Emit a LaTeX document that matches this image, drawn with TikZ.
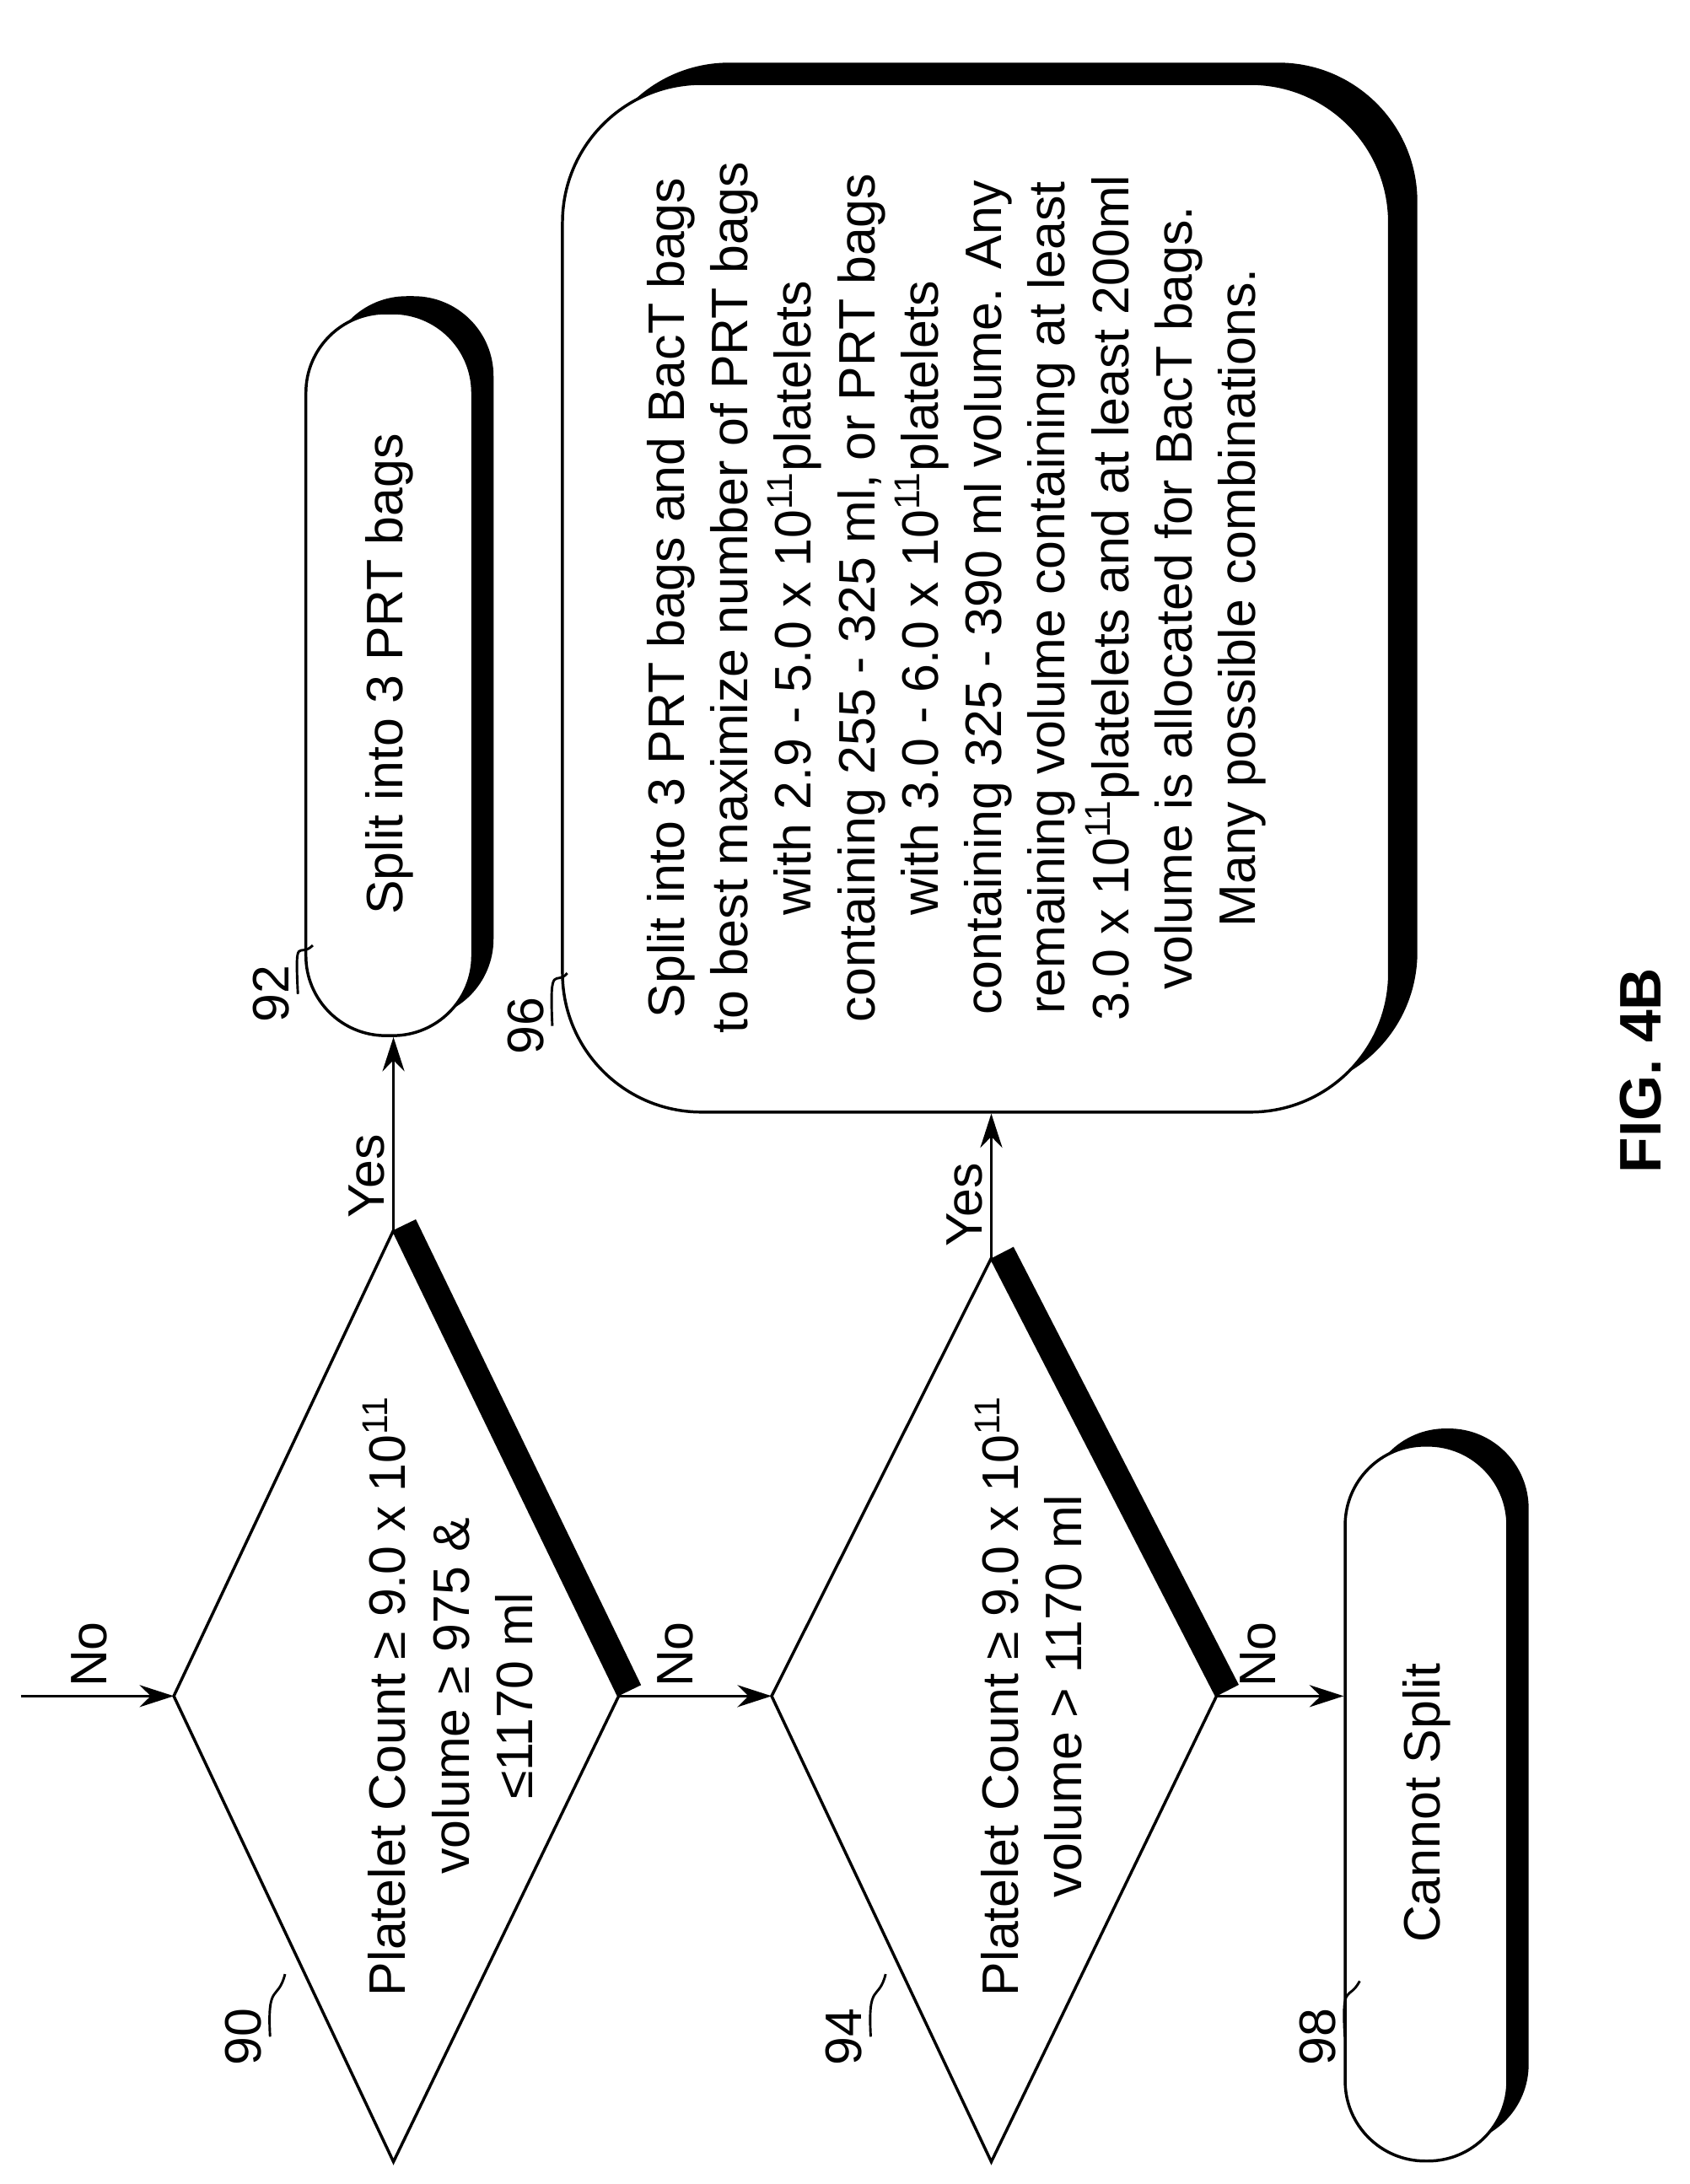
\documentclass[tikz,border=0pt]{standalone}
\usepackage{fontspec}
\setmainfont{Liberation Sans}
\usetikzlibrary{arrows.meta}
\begin{document}
\begin{tikzpicture}[x=0.02cm,y=-0.02cm,
  txt/.style={rotate=90,align=center,font=\fontsize{21}{26}\selectfont},
  term/.style={draw,line width=1.2pt,fill=white,rotate=90,rounded corners=1.15cm},
  shade/.style={fill=black,rotate=90,rounded corners=1.15cm},
  arr/.style={line width=1.2pt,-{Stealth[length=14pt,width=9pt]}},
  band/.style={line width=0.36cm,line cap=butt},
  lead/.style={line width=1pt}]
  \useasboundingbox (0,0) rectangle (1215,1571);
  % decision 90
  \coordinate (d90t) at (283,885); \coordinate (d90r) at (445,1220);
  \coordinate (d90b) at (283,1555); \coordinate (d90l) at (125,1220);
  \draw[band] ([shift={(8,-4)}]d90t) -- ([shift={(8,-4)}]d90r);
  \draw[line width=1.2pt,fill=white] (d90t) -- (d90r) -- (d90b) -- (d90l) -- cycle;
  \node[txt] (t90) at (322,1220) {Platelet Count ≥ 9.0 x 10\textsuperscript{11}\\volume ≥ 975 \&\\≤1170 ml};
  % decision 94
  \coordinate (d94t) at (713,905); \coordinate (d94r) at (875,1220);
  \coordinate (d94b) at (713,1555); \coordinate (d94l) at (555,1220);
  \draw[band] ([shift={(8,-4)}]d94t) -- ([shift={(8,-4)}]d94r);
  \draw[line width=1.2pt,fill=white] (d94t) -- (d94r) -- (d94b) -- (d94l) -- cycle;
  \node[txt] (t94) at (740,1220) {Platelet Count ≥ 9.0 x 10\textsuperscript{11}\\volume > 1170 ml};
  % terminals
  \node[shade,minimum width=10.4cm,minimum height=2.4cm] at (295,473) {};
  \node[term,minimum width=10.4cm,minimum height=2.4cm] (b92) at (280,485) {};
  \node[txt] at (b92) {Split into 3 PRT bags};
  \node[shade,minimum width=10.3cm,minimum height=2.34cm] at (1041,1285) {};
  \node[term,minimum width=10.3cm,minimum height=2.34cm] (b98) at (1026,1297) {};
  \node[txt] at (b98) {Cannot Split};
  \node[shade,rounded corners=2cm,minimum width=14.8cm,minimum height=11.9cm] at (722,415) {};
  \node[term,rounded corners=2cm,minimum width=14.8cm,minimum height=11.9cm] (b96) at (702,430) {};
  \node[txt] at (688,430) {Split into 3 PRT bags and BacT bags\\
    to best maximize number of PRT bags\\
    with 2.9 - 5.0 x 10\textsuperscript{11}platelets\\
    containing 255 - 325 ml, or PRT bags\\
    with 3.0 - 6.0 x 10\textsuperscript{11}platelets\\
    containing 325 - 390 ml volume. Any\\
    remaining volume containing at least\\
    3.0 x 10\textsuperscript{11}platelets and at least 200ml\\
    volume is allocated for BacT bags.\\
    Many possible combinations.};
  % connectors
  \coordinate (in) at (15,1220);
  \draw[arr] (in) -- (d90l) node[txt,pos=0.45,anchor=west,inner sep=3pt] {No};
  \draw[arr] (d90r) -- (d94l) node[txt,pos=0.37,anchor=west,inner sep=3pt] {No};
  \draw[arr] (d94r) -- (d94r -| b98.north) node[txt,pos=0.33,anchor=west,inner sep=3pt] {No};
  \draw[arr] (d90t) -- (d90t |- b92.west) node[txt,pos=0.02,anchor=south west,inner sep=3pt] {Yes};
  \draw[arr] (d94t) -- (d94t |- b96.west) node[txt,pos=0.02,anchor=south west,inner sep=3pt] {Yes};
  % reference numerals
  \node[txt] (n90) at (175,1465) {90};
  \node[txt] (n92) at (195,715) {92};
  \node[txt] (n94) at (607,1465) {94};
  \node[txt] (n96) at (378,738) {96};
  \node[txt] (n98) at (948,1465) {98};
  \draw[lead] (n90.south) .. controls (192,1425) and (200,1440) .. (205,1420);
  \draw[lead] (n92.south) .. controls (212,670) and (215,690) .. (225,680);
  \draw[lead] (n94.south) .. controls (624,1425) and (632,1440) .. (637,1420);
  \draw[lead] (n96.south) .. controls (395,690) and (400,710) .. (408,700);
  \draw[lead] (n98.south) .. controls (965,1425) and (970,1440) .. (978,1425);
  \node[txt,font=\bfseries\fontsize{24}{28}\selectfont] (fig) at (1180,770) {FIG. 4B};
\end{tikzpicture}
\end{document}
